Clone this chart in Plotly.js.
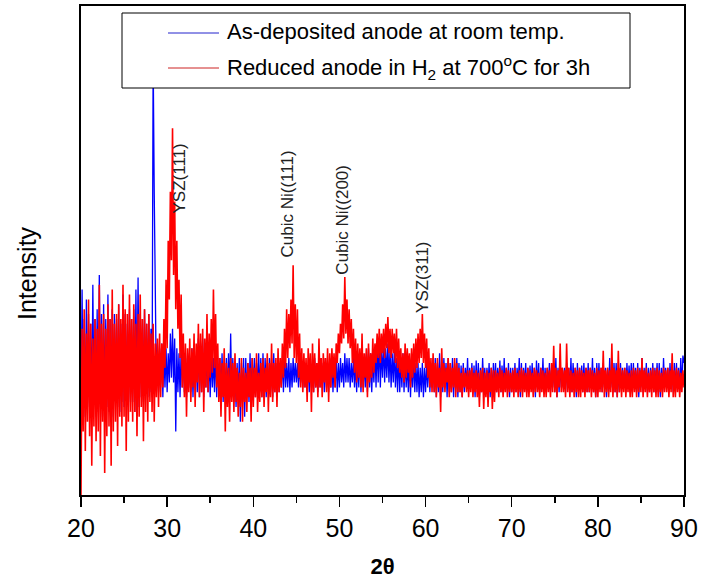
<!DOCTYPE html>
<html>
<head>
<meta charset="utf-8">
<script src="https://cdn.plot.ly/plotly-3.0.1.min.js"></script>
<style>
html,body{margin:0;padding:0;background:#fff;}
#chart{width:702px;height:579px;}
</style>
</head>
<body>
<div id="chart"></div>
<script>
// 2-theta scan: start and step (degrees) (arbitrary intensity units)
var scanStart = 20;
var scanStep = 0.125;

var seriesNames = ["As-deposited anode at room temp.", "Reduced anode in H<sub>2</sub> at 700<sup>o</sup>C for 3h"];

// one row per degree (8 readings per degree), 20 ... 89, then the last reading at 90
var asDeposited = [
 17,42,19,36,16,40,18,37,
 18,35,17,43,19,36,16,38,
 17,45,18,37,16,39,19,36,
 18,41,17,36,19,38,16,37,
 19,36,18,39,17,35,19,41,
 18,37,20,35,18,38,19,36,
 19,38,17,42,20,44.5,18,37,
 20,36,19,38,21,35,20,37,
 21,34,20,90,62,33,22,31,
 21,30,22,31,20,29,22,30,
 21,29,23,33,24,34,23,32,
 13,30,21,29,20,30,22,29,
 21,28,20,29,22,28,21,30,
 20,29,22,28,21,32,20,31,
 21,32,20,30,22,29,21,28,
 20,29,22,28,21,30,20,28,
 21,28,20,29,19,27,21,28,
 20,29,21,33,20,28,19,27,
 18,27,20,28,15,27,19,28,
 16,28,20,27,19,29,20,28,
 21,28,20,27,22,29,21,28,
 20,29,21,28,20,27,21,28,
 21,28,20,29,21,27,20,28,
 21,27,22,28,21,29,22,27,
 22,28,21,27,22,28,23,27,
 23,27,22,26,23,27,22,26,
 22,27,23,26,21,28,22,27,
 21,28,22,27,21,29,22,28,
 22,27,21,28,22,27,21,28,
 22,28,21,27,22,28,21,27,
 22,28,23,27,22,29,23,28,
 23,28,22,27,23,28,22,27,
 21,28,22,29,21,28,22,27,
 22,29,21,30,22,29,21,28,
 23,30,22,31,23,32,22,30,
 24,31,23,30,24,31,23,30,
 22,29,23,30,22,28,21,29,
 21,28,22,29,21,28,22,27,
 21,28,20,27,22,28,21,27,
 21,27,20,26,21,27,20,26,
 21,27,22,28,21,27,22,28,
 21,28,20,27,21,29,20,28,
 21,28,22,27,20,28,21,27,
 21,28,20,27,21,28,20,27,
 21,26.5,20,27,21,26,22,28,
 21,26,22,27,21,26.5,20,27.5,
 21,27,20,26,21,28,22,26,
 21,26,22,27,20,26,21,27,
 22,27,21,26,22,27.5,21,26.5,
 21,28,22,26,21,27,20,26,
 21,26,22,27,21,26,22,28,
 20,27,21,26,22,27,21,26,
 21,26.5,22,27,21,26,20,27.5,
 22,27,21,26,22,28,21,26,
 21,26,22,27,21,26,22,27,
 21,28,20,26,21,27,22,26,
 22,26,21,27,22,26,21,28,
 21,27,22,26,20,27,21,26,
 22,26.5,21,27,22,26,21,27,
 21,26,22,28,21,26,20,27,
 21,27,22,26,21,27,22,26,
 20,26,21,28,22,26,21,27,
 21,27,20,26,21,27,22,26,
 22,26,21,27,22,26.5,21,27,
 21,27,22,26,21,27,20,26,
 22,28,21,26,22,27,21,26,
 21,26,22,27,21,26,22,27,
 21,27,20,26,21,28,22,26,
 22,26,21,27,22,26,21,27,
 21,27,22,26,21,28,22,28.5,
 27
];

var reduced = [
 0,34,13,38,9,33,15,40,
 12,35,6,32,14,36,11,34,
 13,43,8,35,15,37,4.5,34,
 12,39,14,36,6,42,13,35,
 15,37,10,39,16,36,14,43,
 16,38,9,37,15,41,17,36,
 15,39,17,35,12,37,16,41,
 18,36,11,38,17,35,15,37,
 19,33,17,35,15,31,20,32,
 18,33,20,31,22,36,26,44,
 30,52,40,62,48,75,45,60,
 38,52,34,44,28,41,22,33,
 20,31,16,30,21,32,19,30,
 22,33,18,31,23,35,20,33,
 21,34,17,32,22,37,21,33,
 24,36,25,42,26,37,22,31,
 19,28,16,27,20,30,13,27,
 18,26,15,28,19,27,17,29,
 19,26,16,25,18,28,15,26,
 19,25,17,27,20,26,15,28,
 18,26,20,29,17,25,19,27,
 20,28,18,26,21,29,17,27,
 20,31,19,27,21,28,18,30,
 21,28,22,31,24,34,26,38,
 28,37,30,40,31,47,28,39,
 27,38,24,33,22,30,21,29,
 22,28,19,30,23,29,17,31,
 21,29,22,27,20,32,22,28,
 20,29,23,28,21,30,19,29,
 22,30,24,29,22,31,27,33,
 29,35,31,39,32,44.6,33,40,
 31,38,30,36,27,34,25,32,
 23,31,24,30,22,33,21,29,
 24,30,20,31,23,29,24,32,
 25,31,27,33,28,34,27,33,
 29,34,28,35,30,36.4,29,34,
 28,34,29,33,27,34,26,32,
 25,30,24,29,23,31,24,30,
 25,29,22,30,24,31,25,32,
 26,33,27,34,28,37,27,33,
 26,32,24,30,22,28,21,29,
 21,27,20,28,22,26,17,30,
 22,27,21,26,23,28,20,27,
 21,26,22,28,20,27,21,26,
 21,25,20,26,22,25,21,25.5,
 20,25.5,21,26,20,25,21,25.5,
 20,25,18,25.5,21,26,17.6,25,
 20,25.5,18,25,21,26,17.6,25.5,
 19,25.5,21,25,20,26,21,25.5,
 20,25,21,26,20,25.5,21,25,
 21,25.5,20,26,21,25,20,25.5,
 21,26,20,25.5,21,25,20,26,
 20,25.5,21,25,20,26,21,25.5,
 21,25,20,26,21,25.5,20,25,
 20,26,21,25.5,20,27,21,30.5,
 21,26,20,25.5,22,31,21,26,
 21,25.5,20,31,21,26,20,25.5,
 21,25,20,26,21,25.5,20,26,
 20,25.5,21,25,20,26,21,25.5,
 21,26,20,25.5,21,25,20,26,
 20,25.5,21,26,21,29.5,20,25.5,
 21,26,20,25.5,21,31,20,26,
 21,25.5,20,29.5,21,26,20,25.5,
 21,26,20,25.5,21,25,20,25.5,
 20,26,21,25.5,20,26,21,25.5,
 21,28,20,25.5,21,26,20,25,
 21,25.5,20,26,21,25.5,20,26,
 20,25.5,21,25,20,26,21,25.5,
 21,26,20,25.5,21,29,20,25.5,
 20,26,21,25.5,20,25,21,25.5,
 22
];

var xTickVals = [20,30,40,50,60,70,80,90];
var xTickText = ["20","30","40","50","60","70","80","90"];

var peakLabels = ["YSZ(111)", "Cubic Ni((111)", "Cubic Ni((200)", "YSZ(311)"];
var peakX = [31.42, 43.97, 50.35, 59.65];
var peakY = [64.8, 59.5, 56.4, 44.5];

// ---------------------------------------------------------------
function scanAxis(n){ var a=[]; for(var i=0;i<n;i++){ a.push(+(scanStart+i*scanStep).toFixed(4)); } return a; }

var FONT = "Arial, 'Liberation Sans', sans-serif";
var L = 81, R = 684, T = 6, B = 495;
function px(x){ return (x - L)/(R - L); }
function py(y){ return (B - y)/(B - T); }

var traces = [
 {x: scanAxis(asDeposited.length), y: asDeposited, type: 'scatter', mode: 'lines',
  name: seriesNames[0], line: {color: '#0000ff', width: 1.3}, showlegend: false},
 {x: scanAxis(reduced.length), y: reduced, type: 'scatter', mode: 'lines',
  name: seriesNames[1], line: {color: '#ff0000', width: 1.6}, showlegend: false}
];

var annotations = [];
for (var i = 0; i < peakLabels.length; i++) {
  annotations.push({x: peakX[i], y: peakY[i], xref: 'x', yref: 'y', text: peakLabels[i],
    showarrow: false, textangle: -90, xanchor: 'center', yanchor: 'middle',
    font: {family: FONT, size: 17, color: '#222'}});
}
// y-axis title
annotations.push({x: px(27), y: py(273), xref: 'paper', yref: 'paper', text: 'Intensity',
  showarrow: false, textangle: -90, xanchor: 'center', yanchor: 'middle',
  font: {family: FONT, size: 25, color: '#000'}});
// legend texts
annotations.push({x: px(225), y: py(32), xref: 'paper', yref: 'paper', text: seriesNames[0],
  showarrow: false, xanchor: 'left', yanchor: 'middle', font: {family: FONT, size: 22, color: '#000'}});
annotations.push({x: px(225), y: py(68), xref: 'paper', yref: 'paper', text: seriesNames[1],
  showarrow: false, xanchor: 'left', yanchor: 'middle', font: {family: FONT, size: 22, color: '#000'}});

var shapes = [
  {type: 'rect', xref: 'paper', yref: 'paper', x0: px(122), x1: px(630), y0: py(88), y1: py(13),
   fillcolor: '#fff', line: {color: '#000', width: 1}, layer: 'above'},
  {type: 'line', xref: 'paper', yref: 'paper', x0: px(168), x1: px(219), y0: py(33), y1: py(33),
   line: {color: '#2222cc', width: 1}, layer: 'above'},
  {type: 'line', xref: 'paper', yref: 'paper', x0: px(168), x1: px(219), y0: py(68), y1: py(68),
   line: {color: '#cc2222', width: 1}, layer: 'above'}
];

var layout = {
  width: 702, height: 579,
  margin: {l: L, r: 702 - R, t: T, b: 579 - B},
  paper_bgcolor: '#fff', plot_bgcolor: '#fff',
  showlegend: false,
  font: {family: FONT, color: '#000'},
  xaxis: {
    range: [20, 90], tickmode: 'array', tickvals: xTickVals, ticktext: xTickText,
    ticks: 'outside', ticklen: 10, tickwidth: 1.5, tickcolor: '#000',
    minor: {dtick: 5, tick0: 20, ticks: 'outside', ticklen: 6, tickwidth: 1.5, tickcolor: '#000', showgrid: false},
    showline: true, linewidth: 2, linecolor: '#000', mirror: true,
    showgrid: false, zeroline: false,
    tickfont: {family: FONT, size: 25, color: '#000'},
    title: {text: '<b>2θ</b>', font: {family: FONT, size: 22, color: '#000'}, standoff: 22}
  },
  yaxis: {
    range: [0, 100], showticklabels: false, ticks: '',
    showline: true, linewidth: 2, linecolor: '#000', mirror: true,
    showgrid: false, zeroline: false
  },
  annotations: annotations,
  shapes: shapes
};

Plotly.newPlot('chart', traces, layout, {staticPlot: true, displayModeBar: false});
</script>
</body>
</html>
